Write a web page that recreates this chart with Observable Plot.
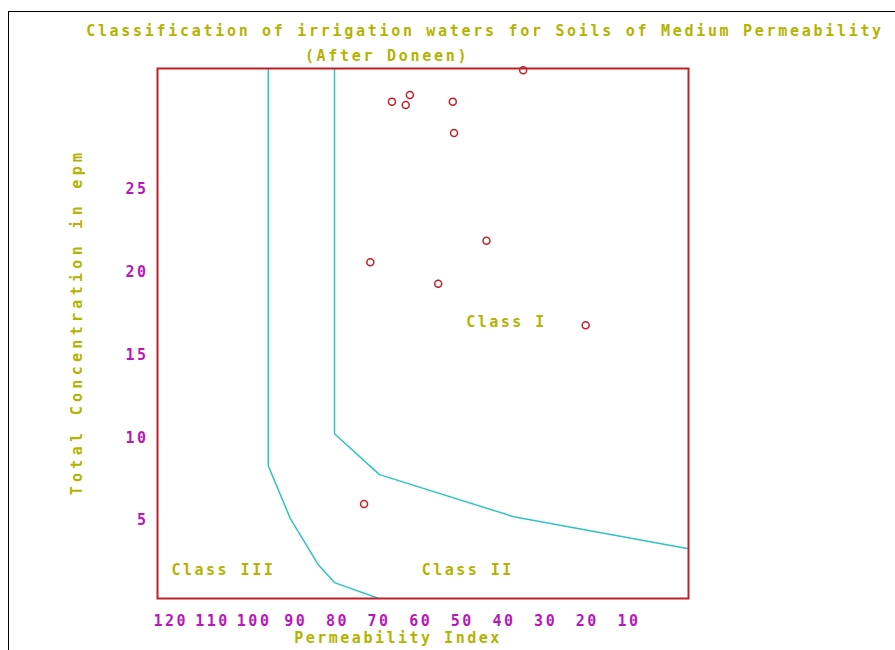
<!DOCTYPE html>
<html>
<head>
<meta charset="utf-8">
<script src="https://cdn.jsdelivr.net/npm/d3@7"></script>
<script src="https://cdn.jsdelivr.net/npm/@observablehq/plot@0.6"></script>
<style>
  html, body { margin: 0; padding: 0; background: #fff; }
  #wrap { position: relative; width: 895px; height: 650px; overflow: hidden; }
  .win { position: absolute; left: 8px; top: 11px; right: -5px; bottom: -5px; border-left: 1px solid #000; border-top: 1px solid #000; }
  .ttl { position: absolute; font-family: "DejaVu Sans Mono", monospace; font-weight: bold; font-size: 15px; letter-spacing: 2.7px; color: #b3b300; line-height: 20px; white-space: nowrap; transform: translateX(-50%); }
</style>
</head>
<body>
<div id="wrap">
  <div class="win"></div>
  <div id="chart"></div>
  <div class="ttl" style="left:485px; top:21px;">Classification of irrigation waters for Soils of Medium Permeability</div>
  <div class="ttl" style="left:387px; top:46px;">(After Doneen)</div>
</div>
<script>
// Sample points: permeability index (%) and total concentration (epm)
const sampleX = [35.4, 66.9, 62.6, 63.6, 52.3, 52.0, 44.2, 72.1, 55.8, 20.4, 73.6];
const sampleY = [32.2, 30.3, 30.7, 30.1, 30.3, 28.4, 21.9, 20.6, 19.3, 16.8, 6.0];

// Class I / Class II boundary
const b1X = [80.7, 80.7, 69.9, 37.7, -4.3];
const b1Y = [32.3, 10.25, 7.78, 5.24, 3.31];

// Class II / Class III boundary
const b2X = [96.6, 96.6, 91.3, 84.6, 80.7, 70.4];
const b2Y = [32.3, 8.32, 5.12, 2.34, 1.26, 0.33];

// Class labels
const classNames = ["Class I", "Class II", "Class III"];
const classX = [39.4, 48.7, 107.4];
const classY = [17.0, 1.98, 1.98];

const xTicks = [120, 110, 100, 90, 80, 70, 60, 50, 40, 30, 20, 10];
const yTicks = [5, 10, 15, 20, 25];

const points = sampleX.map((x, i) => ({x, y: sampleY[i]}));
const line1 = b1X.map((x, i) => ({x, y: b1Y[i]}));
const line2 = b2X.map((x, i) => ({x, y: b2Y[i]}));
const classes = classNames.map((t, i) => ({t, x: classX[i], y: classY[i]}));

const olive = "#b3b300";
const magenta = "#b818b8";
const red = "#c0202a";
const cyan = "#2fc3c3";
const yLabel = "Total Concentration in epm";

const chart = Plot.plot({
  width: 895,
  height: 650,
  marginLeft: 157,
  marginRight: 207,
  marginTop: 68,
  marginBottom: 52,
  style: {
    fontFamily: "DejaVu Sans Mono, monospace",
    fontWeight: "bold",
    fontSize: "15px",
    letterSpacing: "2.5px",
    background: "transparent",
    overflow: "visible"
  },
  x: {domain: [123.2, -4.3], label: null},
  y: {domain: [0.3, 32.3], label: null},
  marks: [
    Plot.line(line2, {x: "x", y: "y", stroke: cyan, strokeWidth: 1.5}),
    Plot.line(line1, {x: "x", y: "y", stroke: cyan, strokeWidth: 1.5}),
    Plot.dot(points, {x: "x", y: "y", r: 3.5, stroke: red, strokeWidth: 1.5, fill: "white"}),
    Plot.text(classes, {x: "x", y: "y", text: "t", fill: olive, fontSize: 15, fontWeight: "bold"}),
    Plot.frame({stroke: red, strokeWidth: 2}),
    Plot.axisX(xTicks, {tickSize: 0, tickPadding: 17, fill: magenta, fontSize: 15, label: null}),
    Plot.axisY(yTicks, {tickSize: 0, tickPadding: 9, fill: magenta, fontSize: 15, label: null}),
    Plot.text(["Permeability Index"], {frameAnchor: "bottom", dx: -25, dy: 44, fill: olive, fontSize: 15, fontWeight: "bold"}),
    Plot.text([yLabel], {frameAnchor: "left", textAnchor: "middle", rotate: -90, dx: -80, dy: -11.5, fill: olive, fontSize: 15, fontWeight: "bold"})
  ]
});
d3.select(chart).selectAll("text").filter(function() { return this.textContent === yLabel; })
  .style("letter-spacing", "4.3px");
document.getElementById("chart").appendChild(chart);
</script>
</body>
</html>
